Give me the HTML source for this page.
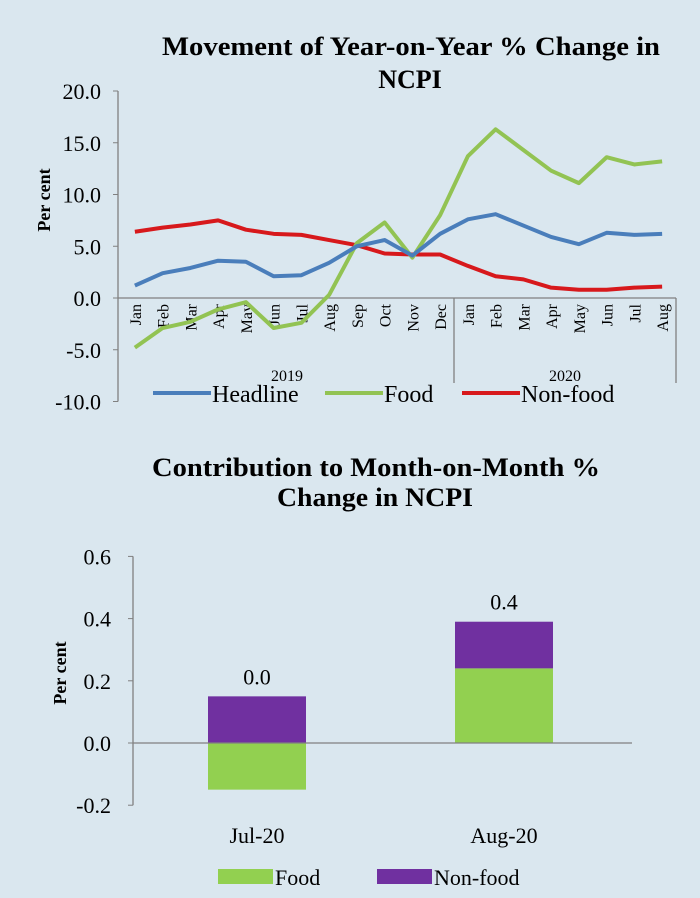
<!DOCTYPE html>
<html><head><meta charset="utf-8"><style>
body{margin:0;background:#dae7ef;}
svg{display:block;font-family:"Liberation Serif",serif;}
</style></head><body>
<svg width="700" height="898" viewBox="0 0 700 898">
<rect width="700" height="898" fill="#dae7ef"/>
<g id="c1"></g>
<g id="c2"></g>
</svg>
<script>
const months=["Jan","Feb","Mar","Apr","May","Jun","Jul","Aug","Sep","Oct","Nov","Dec","Jan","Feb","Mar","Apr","May","Jun","Jul","Aug"];
const headline=[1.2,2.4,2.9,3.6,3.5,2.1,2.2,3.4,5.0,5.6,4.1,6.2,7.6,8.1,7.0,5.9,5.2,6.3,6.1,6.2];
const food=[-4.8,-2.9,-2.3,-1.1,-0.4,-2.9,-2.4,0.3,5.3,7.3,3.9,8.0,13.7,16.3,14.3,12.3,11.1,13.6,12.9,13.2];
const nonfood=[6.4,6.8,7.1,7.5,6.6,6.2,6.1,5.6,5.1,4.3,4.2,4.2,3.1,2.1,1.8,1.0,0.8,0.8,1.0,1.1];
const yTicks1=[20,15,10,5,0,-5,-10];
const barCats=["Jul-20","Aug-20"];
const barFood=[-0.15,0.24];
const barNonfood=[0.15,0.15];
const barTotals=["0.0","0.4"];
const yTicks2=[0.6,0.4,0.2,0.0,-0.2];
const NS="http://www.w3.org/2000/svg";
function mk(p,t,a,txt){const e=document.createElementNS(NS,t);for(const k in a)e.setAttribute(k,a[k]);if(txt!==undefined)e.textContent=txt;p.appendChild(e);return e;}
// chart 1
const c1=document.getElementById('c1');
const X0=121,STEP=27.75;
const x1=i=>X0+STEP*(i+0.5);
const y1=v=>298-v*10.35;
let t;
t=mk(c1,'text',{x:162,y:55,'font-size':26,'font-weight':'bold',textLength:498,lengthAdjust:'spacingAndGlyphs'},"Movement of Year-on-Year % Change in");


t=mk(c1,'text',{x:410,y:88,'text-anchor':'middle','font-size':26,'font-weight':'bold'},"NCPI");


mk(c1,'line',{x1:118,y1:y1(20),x2:118,y2:y1(-10),stroke:'#808080','stroke-width':1.3});
yTicks1.forEach(v=>{
 mk(c1,'line',{x1:113,y1:y1(v),x2:118,y2:y1(v),stroke:'#808080'});
 const e=mk(c1,'text',{x:101,y:y1(v)+8,'text-anchor':'end','font-size':22},v.toFixed(1));
 
 
});
t=mk(c1,'text',{transform:'translate(50,200) rotate(-90)','text-anchor':'middle','font-size':18,'font-weight':'bold'},"Per cent");


mk(c1,'line',{x1:118,y1:y1(0),x2:X0+STEP*20,y2:y1(0),stroke:'#808080','stroke-width':1.3});
[12,20].forEach(k=>mk(c1,'line',{x1:X0+STEP*k,y1:y1(0),x2:X0+STEP*k,y2:383,stroke:'#808080','stroke-width':1.3}));
months.forEach((m,i)=>{
 const e=mk(c1,'text',{transform:`translate(${x1(i)+6},304) rotate(-90)`,'text-anchor':'end','font-size':16},m);
 
 
});
t=mk(c1,'text',{x:287,y:381,'text-anchor':'middle','font-size':16},"2019");
t=mk(c1,'text',{x:565,y:381,'text-anchor':'middle','font-size':16},"2020");
const series=[[nonfood,'#d7191c','nonfood-line'],[food,'#92c353','food-line'],[headline,'#4a7ebb','headline-line']];
series.forEach(([d,c,n])=>{
 const p=mk(c1,'polyline',{points:d.map((v,i)=>x1(i)+','+y1(v)).join(' '),fill:'none',stroke:c,'stroke-width':4,'stroke-linejoin':'round'});
 
 
});
[[153,'#4a7ebb','Headline'],[325,'#92c353','Food'],[462,'#d7191c','Non-food']].forEach(([x,c,l])=>{
 const g=mk(c1,'g',{});
 
 
 mk(g,'line',{x1:x,y1:393,x2:x+58,y2:393,stroke:c,'stroke-width':4});
 mk(g,'text',{x:x+59,y:402,'font-size':24},l);
});
// chart 2
const c2=document.getElementById('c2');
const y2=v=>743-v*311;
t=mk(c2,'text',{x:152,y:476,'font-size':26,'font-weight':'bold',textLength:448,lengthAdjust:'spacingAndGlyphs'},"Contribution to Month-on-Month %");

t=mk(c2,'text',{x:277,y:506,'font-size':26,'font-weight':'bold',textLength:196,lengthAdjust:'spacingAndGlyphs'},"Change in NCPI");

mk(c2,'line',{x1:133,y1:y2(0.6),x2:133,y2:y2(-0.2),stroke:'#808080','stroke-width':1.3});
yTicks2.forEach(v=>{
 mk(c2,'line',{x1:128,y1:y2(v),x2:133,y2:y2(v),stroke:'#808080'});
 const e=mk(c2,'text',{x:111,y:y2(v)+8,'text-anchor':'end','font-size':22},v.toFixed(1));
 
 
});
t=mk(c2,'text',{transform:'translate(66,673) rotate(-90)','text-anchor':'middle','font-size':18,'font-weight':'bold'},"Per cent");

const bx=i=>257+i*247,BW=98;
barCats.forEach((c,i)=>{
 const f=barFood[i],n=barNonfood[i];
 const fy=Math.min(y2(0),y2(f)),fh=Math.abs(y2(f)-y2(0));
 const b1=mk(c2,'rect',{x:bx(i)-BW/2,y:fy,width:BW,height:fh,fill:'#92d050'});
 
 
 const base=f>0?f:0;
 const b2=mk(c2,'rect',{x:bx(i)-BW/2,y:y2(base+n),width:BW,height:y2(base)-y2(base+n),fill:'#7030a0'});
 
 
 const e=mk(c2,'text',{x:bx(i),y:y2(base+n)-12,'text-anchor':'middle','font-size':22},barTotals[i]);
 
 
 const l=mk(c2,'text',{x:bx(i),y:843,'text-anchor':'middle','font-size':22},c);
 
 
});
mk(c2,'line',{x1:133,y1:y2(0),x2:632,y2:y2(0),stroke:'#808080','stroke-width':1.3});
[[218,'#92d050','Food'],[377,'#7030a0','Non-food']].forEach(([x,c,l])=>{
 const g=mk(c2,'g',{});
 
 
 mk(g,'rect',{x:x,y:869,width:55,height:15,fill:c});
 mk(g,'text',{x:x+57,y:885,'font-size':22},l);
});
</script>
</body></html>
